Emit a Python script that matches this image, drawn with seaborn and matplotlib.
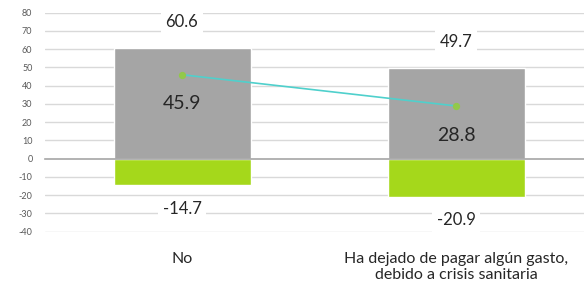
import numpy as np
import pandas as pd
import seaborn as sns
import matplotlib.pyplot as plt
import matplotlib.transforms as mtransforms

categories = ['No', 'Ha dejado de pagar algún gasto,\ndebido a crisis sanitaria']
gray_vals = [60.6, 49.7]
green_vals = [-14.7, -20.9]
line_vals = [45.9, 28.8]
y_ticks = list(range(-40, 90, 10))

GRAY = '#A5A5A5'
GREEN = '#A5D81B'
LINE = '#4FD0CC'
DOT = '#92C84A'
TEXT = '#262626'

sns.set_style('white')
plt.rcParams['font.family'] = ['Lato', 'DejaVu Sans']

fig = plt.figure(figsize=(5.84, 2.89), dpi=100)
W, H = 584, 289
# axes spans beyond the right edge, the original is cropped there
ax = fig.add_axes([45 / W, (H - 231.5) / H, 548 / W, 219 / H])

df = pd.DataFrame({'cat': categories, 'gray': gray_vals, 'green': green_vals})
sns.barplot(data=df, x='cat', y='gray', color=GRAY, width=0.5, saturation=1, ax=ax, zorder=2)
sns.barplot(data=df, x='cat', y='green', color=GREEN, width=0.5, saturation=1, ax=ax, zorder=2)

xs = np.arange(len(categories))
ax.plot(xs, line_vals, color=LINE, lw=1.2, zorder=3)
ax.scatter(xs, line_vals, color=DOT, s=18, zorder=4)

ax.set_ylim(-40, 80)
ax.set_xlim(-0.5, 1.5)
ax.set_yticks(y_ticks)
ax.set_yticklabels([str(t) for t in y_ticks], fontsize=6.5, color='#595959')
ax.tick_params(axis='y', length=0, pad=9)
for t in y_ticks:
    if t != 0:
        ax.axhline(t, color='#D9D9D9', lw=1, zorder=0)

for s in ['top', 'right', 'left']:
    ax.spines[s].set_visible(False)
ax.spines['bottom'].set_position(('data', 0))
ax.spines['bottom'].set_color('#A6A6A6')
ax.spines['bottom'].set_linewidth(1.2)
ax.spines['bottom'].set_zorder(3)
ax.set_xticks([-0.5, 0, 0.5])
ax.set_xticklabels(['', '', ''])
ax.tick_params(axis='x', length=4, color='#A6A6A6', width=1, direction='out')
ax.set_xlabel('')
ax.set_ylabel('')

box = dict(boxstyle='square,pad=0.25', fc='white', ec='none')
for i in range(len(categories)):
    ax.text(i, gray_vals[i] + 14, f'{gray_vals[i]:.1f}', ha='center', va='center',
            fontsize=12, color=TEXT, bbox=box, zorder=5)
    ax.text(i, line_vals[i] - 16, f'{line_vals[i]:.1f}', ha='center', va='center',
            fontsize=14, color=TEXT, zorder=5)
    ax.text(i, green_vals[i] - 13, f'{green_vals[i]:.1f}', ha='center', va='center',
            fontsize=12, color=TEXT, bbox=box, zorder=5)

trans = mtransforms.blended_transform_factory(ax.transData, fig.transFigure)
for i, c in enumerate(categories):
    ax.text(i, (H - 252) / H, c, ha='center', va='top', fontsize=11.5,
            color=TEXT, transform=trans, linespacing=1.2)

fig.savefig('out.png', dpi=100)
